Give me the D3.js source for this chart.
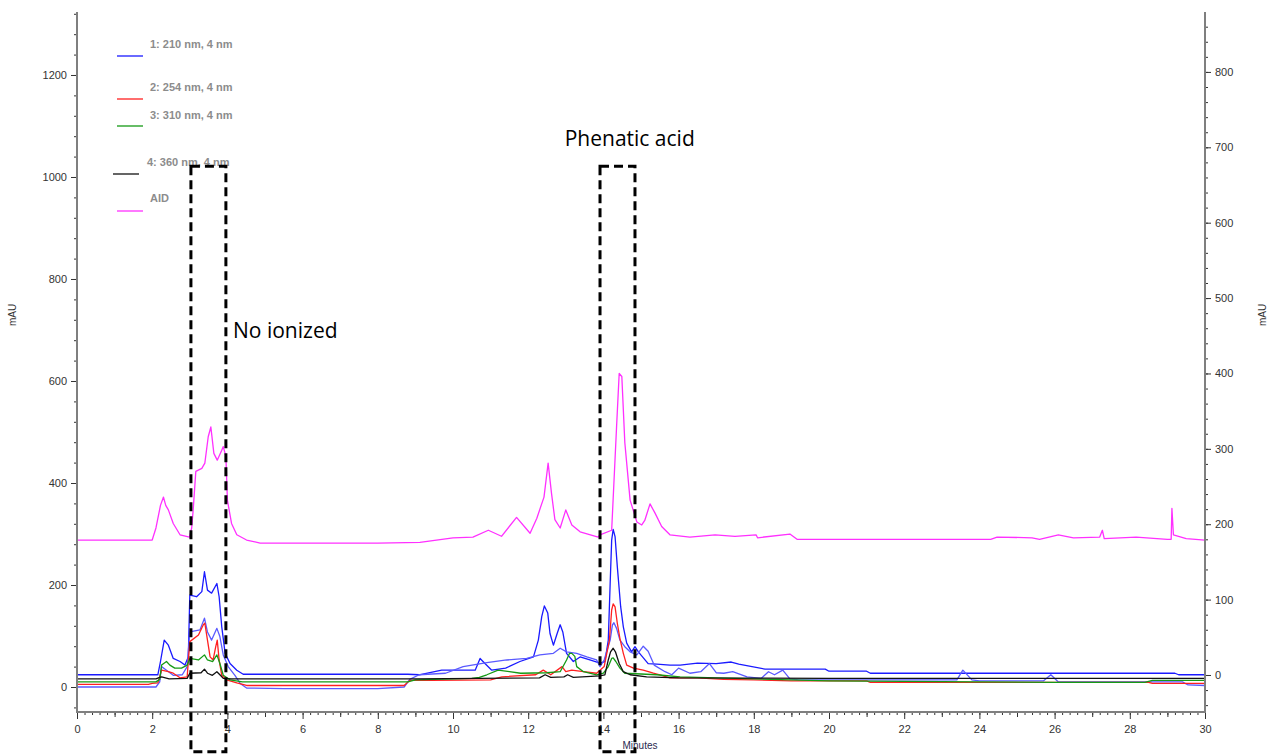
<!DOCTYPE html>
<html><head><meta charset="utf-8">
<script src="https://cdn.jsdelivr.net/npm/d3@7"></script>
<style>
html,body{margin:0;padding:0;background:#fff;}
svg{display:block;}
</style></head>
<body>
<svg id="chart" width="1272" height="755"></svg>
<script>
// ---------------- DATA ----------------
const legendLabels = ["1: 210 nm, 4 nm", "2: 254 nm, 4 nm", "3: 310 nm, 4 nm", "4: 360 nm, 4 nm", "AID"];
const xTicks = [0,2,4,6,8,10,12,14,16,18,20,22,24,26,28,30];
const leftTicks = [0,200,400,600,800,1000,1200];
const rightTicks = [0,100,200,300,400,500,600,700,800];

// [minutes, mAU]
const trace210a = [[0,24],[2.15,24],[2.22,50],[2.32,92],[2.43,82],[2.56,56],[2.74,50],[2.87,43],[2.96,59],[3.0,180],[3.18,177],[3.32,187],[3.39,226],[3.47,190],[3.58,184],[3.72,203],[3.78,177],[3.85,118],[3.94,66],[4.07,46],[4.25,33],[4.42,25],[6,25],[8.8,25],[9.1,24],[9.7,33],[10.59,33],[10.72,56],[10.85,46],[11.03,33],[11.4,37],[11.78,50],[12.14,59],[12.27,92],[12.36,138],[12.43,159],[12.52,145],[12.58,105],[12.67,82],[12.77,105],[12.85,122],[12.92,108],[13.02,66],[13.2,50],[13.38,59],[13.64,53],[13.91,47],[14.04,50],[14.13,92],[14.18,203],[14.22,288],[14.26,309],[14.31,295],[14.37,236],[14.46,157],[14.53,118],[14.62,86],[14.75,69],[14.84,79],[14.93,69],[15.19,46],[15.42,45],[15.77,43],[16.04,43],[16.5,47],[17.0,46],[17.4,49],[17.6,45],[18.3,35],[19.9,35],[20.0,31],[21.0,31],[21.1,27],[29.2,27],[29.3,24],[30,24]];
const trace210b = [[0,0],[2.1,0],[2.2,10],[2.25,40],[2.38,33],[2.56,23],[2.8,24],[2.93,40],[3.0,108],[3.27,112],[3.39,135],[3.47,108],[3.58,92],[3.72,115],[3.8,99],[3.89,63],[4.02,40],[4.2,23],[4.34,7],[4.51,-2],[5.5,-3],[8.0,-3],[8.7,0],[8.85,15],[9.1,24],[9.8,27],[10.27,40],[10.9,48],[11.43,53],[11.96,56],[12.31,63],[12.67,66],[12.85,76],[13.02,69],[13.29,66],[13.56,59],[13.82,53],[13.91,40],[14.02,53],[14.18,92],[14.24,122],[14.28,126],[14.35,115],[14.44,92],[14.57,79],[14.71,69],[14.89,63],[15.06,80],[15.19,70],[15.35,43],[15.64,30],[15.82,24],[16.0,37],[16.3,27],[16.59,30],[16.82,46],[17.0,28],[17.2,27],[17.44,30],[17.82,20],[18.2,17],[18.39,30],[18.55,24],[18.77,33],[18.96,16],[19.2,14],[23.4,14],[23.56,33],[23.8,14],[24.0,12],[25.7,12],[25.9,24],[26.1,10],[29.4,10],[29.55,4],[30,3]];
const trace254 = [[0,5],[1.9,5],[2.0,7],[2.15,8],[2.25,33],[2.43,30],[2.56,27],[2.74,18],[2.93,20],[3.0,89],[3.23,102],[3.36,122],[3.40,125],[3.47,92],[3.54,59],[3.62,53],[3.69,79],[3.73,92],[3.78,53],[3.85,23],[3.98,14],[4.25,8],[4.51,3],[8.7,3],[8.85,13],[9.4,13],[11.0,14],[11.3,20],[12.2,24],[12.4,33],[12.6,24],[12.9,40],[13.0,30],[13.16,33],[13.47,30],[13.82,27],[14.02,40],[14.16,92],[14.22,151],[14.26,163],[14.31,157],[14.37,125],[14.44,95],[14.53,66],[14.62,43],[14.8,37],[15.06,33],[15.33,27],[15.5,24],[15.77,18],[16.5,18],[17.2,15],[18.0,14],[19.0,12],[21.0,12],[21.1,9],[28.5,9],[28.6,7],[30,7]];
const trace310 = [[0,10],[2.1,10],[2.2,15],[2.25,43],[2.38,50],[2.47,43],[2.6,37],[2.78,37],[2.93,43],[3.0,56],[3.23,53],[3.39,63],[3.47,53],[3.61,50],[3.72,63],[3.8,46],[3.89,23],[4.07,14],[4.4,10],[8.8,10],[9.0,14],[10.5,17],[10.7,19],[10.9,24],[11.2,33],[11.5,30],[11.8,27],[12.5,28],[12.85,30],[13.02,53],[13.1,66],[13.16,66],[13.24,60],[13.29,40],[13.47,30],[13.82,24],[14.0,27],[14.13,40],[14.22,56],[14.26,57],[14.33,50],[14.44,37],[14.57,27],[15.42,24],[16.04,20],[18.0,16],[20.0,12],[24.0,10],[26.0,9],[28.4,9],[28.6,13],[30,13]];
const trace360 = [[0,16],[2.1,16],[2.2,19],[2.25,20],[2.45,16],[2.93,17],[3.0,27],[3.3,28],[3.39,35],[3.47,27],[3.6,23],[3.72,30],[3.8,24],[3.89,17],[4.1,16],[9.0,16],[12.3,18],[12.45,24],[12.6,19],[12.95,20],[13.05,24],[13.2,19],[13.9,22],[14.04,24],[14.13,53],[14.19,69],[14.26,76],[14.32,69],[14.42,46],[14.53,30],[14.71,24],[15.15,20],[16.0,18],[20,17],[30,17]];
// AID trace, right axis
const traceAID = [[0,179],[2.0,179],[2.1,195],[2.22,225],[2.30,236],[2.36,225],[2.43,219],[2.56,201],[2.74,186],[2.99,183],[3.05,195],[3.09,219],[3.16,270],[3.32,274],[3.40,281],[3.49,316],[3.56,329],[3.64,294],[3.73,285],[3.85,298],[3.89,303],[3.96,290],[4.0,232],[4.11,201],[4.25,186],[4.51,179],[4.87,175],[8.0,175],[9.12,176],[10.0,182],[10.53,183],[10.94,192],[11.29,184],[11.69,209],[12.05,188],[12.23,208],[12.42,236],[12.53,281],[12.62,241],[12.71,206],[12.85,195],[13.0,219],[13.16,199],[13.38,190],[13.86,183],[13.91,186],[14.22,192],[14.35,329],[14.42,400],[14.49,396],[14.57,308],[14.71,232],[14.89,203],[15.02,199],[15.1,205],[15.24,227],[15.37,215],[15.55,197],[15.77,186],[16.3,183],[16.97,186],[17.5,184],[18.06,186],[18.1,182],[18.96,187],[19.15,180],[24.3,180],[24.47,183],[25.4,182],[25.6,180],[26.1,186],[26.5,182],[27.2,183],[27.27,192],[27.32,181],[28.17,183],[29.0,180],[29.1,180],[29.12,221],[29.16,186],[29.5,181],[30,179]];

// annotation boxes: [start min, end min, top mAU, bottom mAU]
const boxStarts = [3.03, 13.91];
const boxEnds = [3.96, 14.84];
const boxTop = 1021;
const boxBottom = -127;
const annotTexts = ["No ionized", "Phenatic acid"];
const annotT = [4.15, 14.7];
const annotV = [684, 1061];

// ---------------- CHART ----------------
const svg = d3.select("#chart");
const X0 = 77, X1 = 1205, Y0 = 12, Y1 = 712;
const x = d3.scaleLinear().domain([0,30]).range([X0,X1]);
const yL = d3.scaleLinear().domain([-49,1323.5]).range([Y1,Y0]);
const yR = d3.scaleLinear().domain([-49.1,879.5]).range([Y1,Y0]);

const font = "'Liberation Sans', Arial, sans-serif";
const axisGrey = "#7f7f7f";

svg.append("defs").append("clipPath").attr("id","clip")
  .append("rect").attr("x",X0).attr("y",Y0).attr("width",X1-X0).attr("height",Y1-Y0);

const plot = svg.append("g").attr("clip-path","url(#clip)");

const lineL = d3.line().x(d=>x(d[0])).y(d=>yL(d[1]));
const lineR = d3.line().x(d=>x(d[0])).y(d=>yR(d[1]));

const series = [
  {data: trace210a, color: "#1a1aff", line: lineL},
  {data: trace210b, color: "#5a5aff", line: lineL},
  {data: trace254, color: "#ff2020", line: lineL},
  {data: trace310, color: "#159a15", line: lineL},
  {data: trace360, color: "#111111", line: lineL},
  {data: traceAID, color: "#ff30ff", line: lineR}
];
series.forEach(s => {
  plot.append("path").attr("d", s.line(s.data)).attr("fill","none")
    .attr("stroke", s.color).attr("stroke-width",1.3).attr("stroke-linejoin","round");
});

// Axes
function styleAxis(g){
  g.select(".domain").remove();
  g.selectAll(".tick line").attr("stroke","#333").attr("stroke-width",1);
  g.selectAll(".tick text").attr("fill","#333").style("font-family",font).style("font-size","11px");
}
const range = (a,b,s)=>{const r=[];for(let v=a; v<=b+1e-9; v+=s) r.push(+v.toFixed(4)); return r;};
const fmt = d3.format("d");

// left
const gL = svg.append("g").attr("transform",`translate(${X0},0)`);
gL.append("g").call(d3.axisLeft(yL).tickValues(range(-40,1320,40)).tickSize(3).tickFormat("")).call(styleAxis);
gL.append("g").call(d3.axisLeft(yL).tickValues(leftTicks).tickSize(6).tickPadding(4).tickFormat(fmt)).call(styleAxis);
// right
const gR = svg.append("g").attr("transform",`translate(${X1},0)`);
gR.append("g").call(d3.axisRight(yR).tickValues(range(-40,860,20)).tickSize(3).tickFormat("")).call(styleAxis);
gR.append("g").call(d3.axisRight(yR).tickValues(rightTicks).tickSize(6).tickPadding(4).tickFormat(fmt)).call(styleAxis);
// bottom
const gB = svg.append("g").attr("transform",`translate(0,${Y1})`);
gB.append("g").call(d3.axisBottom(x).tickValues(range(0,30,0.2)).tickSize(3).tickFormat("")).call(styleAxis);
gB.append("g").call(d3.axisBottom(x).tickValues(range(1,29,2)).tickSize(5).tickFormat("")).call(styleAxis);
gB.append("g").call(d3.axisBottom(x).tickValues(xTicks).tickSize(7).tickPadding(6).tickFormat(fmt)).call(styleAxis);

// axis lines
svg.append("line").attr("x1",X0).attr("x2",X0).attr("y1",Y0).attr("y2",Y1).attr("stroke",axisGrey).attr("stroke-width",2);
svg.append("line").attr("x1",X1).attr("x2",X1).attr("y1",Y0).attr("y2",Y1).attr("stroke",axisGrey).attr("stroke-width",2);
svg.append("line").attr("x1",X0-1).attr("x2",X1+1).attr("y1",Y1).attr("y2",Y1).attr("stroke",axisGrey).attr("stroke-width",2);

// axis titles
svg.append("text").attr("transform","translate(16,315) rotate(-90)").attr("text-anchor","middle")
  .style("font-family",font).style("font-size","10px").attr("fill","#333").text("mAU");
svg.append("text").attr("transform","translate(1266,315) rotate(-90)").attr("text-anchor","middle")
  .style("font-family",font).style("font-size","10px").attr("fill","#333").text("mAU");
svg.append("text").attr("x",640).attr("y",749).attr("text-anchor","middle")
  .style("font-family",font).style("font-size","10px").attr("fill","#2a2a50").text("Minutes");

// legend
const legendColors = ["#1a1aff","#ff2020","#159a15","#111111","#ff30ff"];
const legLineY = [56,99,126,174,211];
const legLineX = [117,117,117,113,117];
const legTextY = [48,91,119,166,202];
const legTextX = [150,150,150,147,150];
const lg = svg.append("g");
legendLabels.forEach((lab,i)=>{
  lg.append("line").attr("x1",legLineX[i]).attr("x2",legLineX[i]+26).attr("y1",legLineY[i]).attr("y2",legLineY[i])
    .attr("stroke",legendColors[i]).attr("stroke-width",1.3);
  lg.append("text").attr("x",legTextX[i]).attr("y",legTextY[i])
    .style("font-family",font).style("font-size","11px").style("font-weight","bold")
    .attr("fill","#8c8c8c").text(lab);
});

// annotation boxes
boxStarts.forEach((s,i)=>{
  svg.append("rect").attr("x",x(s)).attr("y",yL(boxTop))
    .attr("width",x(boxEnds[i])-x(s)).attr("height",yL(boxBottom)-yL(boxTop))
    .attr("fill","none").attr("stroke","#000").attr("stroke-width",3).attr("stroke-dasharray","9,5");
});
annotTexts.forEach((t,i)=>{
  svg.append("text").attr("x",x(annotT[i])).attr("y",yL(annotV[i]))
    .attr("text-anchor", i===0 ? "start" : "middle")
    .style("font-family","'Open Sans', sans-serif").style("font-size","21px").attr("fill","#000").text(t);
});
</script>
</body></html>
